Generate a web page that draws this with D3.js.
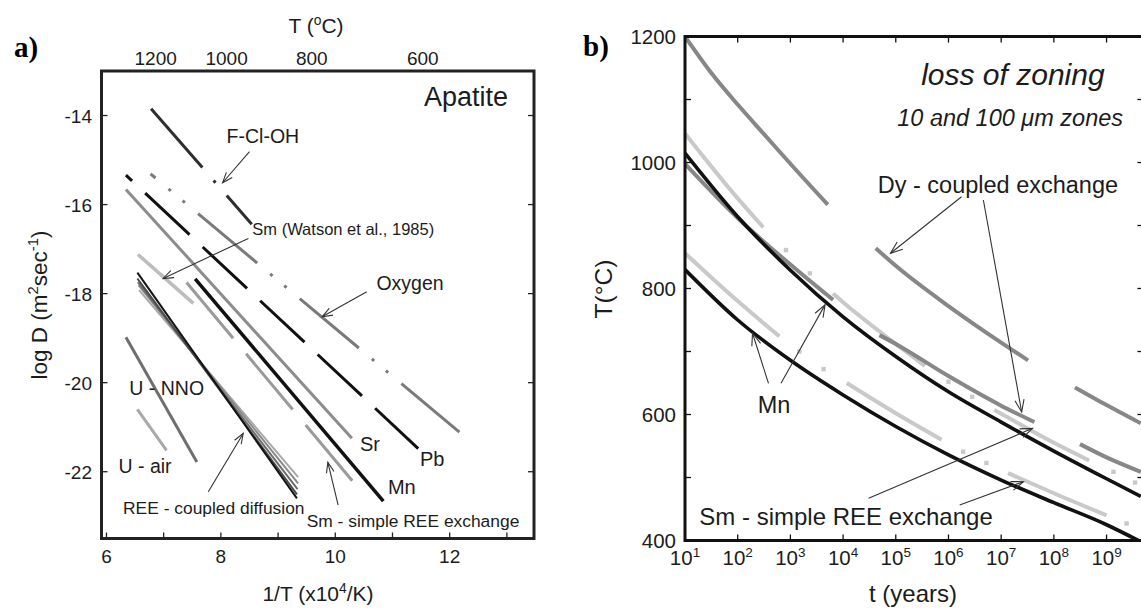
<!DOCTYPE html>
<html>
<head>
<meta charset="utf-8">
<script src="https://cdn.jsdelivr.net/npm/d3@7"></script>
<style>
  html, body { margin: 0; padding: 0; background: #fff; }
  svg { display: block; font-family: "Liberation Sans", Arial, sans-serif; }
</style>
</head>
<body>
<svg id="fig" width="1141" height="608"></svg>
<script>
// ================= Panel a: apatite Arrhenius lines =================
// Each line: endpoints as [1/T (x10^4/K), log D (m^2/s)]
const lineFClOH    = [[6.78, -13.85], [8.54, -16.44]];
const lineOxygen   = [[6.77, -15.31], [12.17, -21.11]];
const linePb       = [[6.34, -15.34], [11.45, -21.48]];
const lineSr       = [[6.34, -15.66], [10.29, -21.25]];
const lineMn       = [[7.55, -17.67], [10.84, -22.66]];
const lineSmWatson = [[6.55, -17.12], [7.52, -18.22]];
const lineSmSimple = [[7.40, -17.75], [10.30, -22.21]];
const lineUNNO     = [[6.34, -18.98], [7.58, -21.78]];
const lineUAir     = [[6.54, -20.60], [7.05, -21.52]];
const linesREE = [
  [[6.54, -17.53], [9.33, -22.60]],
  [[6.54, -17.66], [9.33, -22.51]],
  [[6.55, -17.74], [9.34, -22.39]],
  [[6.56, -17.81], [9.35, -22.26]],
  [[6.57, -17.92], [9.35, -22.12]]
];
const xTicksA  = [6, 7, 8, 9, 10, 11, 12, 13];
const xLabelsA = [6, 8, 10, 12];
const yTicksA  = [-14, -16, -18, -20, -22];
const tempLabels  = [1200, 1000, 800, 600];
const tempLabelAt = [6.86, 8.10, 9.59, 11.53];   // 1/T value under each °C label

// ================= Panel b: time for loss of zoning =================
// Points are [t (years), T (°C)]; dashed series are split into their visible pieces
const dyThick = [
  [[1e1, 1200], [31.6, 1142], [1e2, 1092], [316, 1045], [1e3, 998], [5130, 933]],
  [[4.17e4, 864], [1e5, 836], [1e6, 772], [1e7, 714], [3.24e7, 686]],
  [[2.51e8, 643], [1e9, 615], [4.47e9, 586]]
];
const dyThin = [
  [[1e1, 998], [1e2, 912], [1e3, 838], [6457, 782]],
  [[4.9e4, 726], [1e5, 712], [1e6, 661], [1e7, 614], [4.27e7, 588]],
  [[3.13e8, 553], [1e9, 532], [4.47e9, 509]]
];
const smThick = [
  [[1e1, 1046], [1e2, 943], [306, 897]],
  [[6457, 792], [1e4, 778], [1e5, 712], [3.6e5, 677]],
  [[7.41e6, 607], [1e7, 601], [1e8, 555], [4.68e8, 527]]
];
const smThickDots = [[826, 861], [2344, 824], [1e6, 652], [2.82e6, 628], [1.35e9, 509], [3.47e9, 492]];
const smThin = [
  [[1e1, 856], [1e2, 780], [617, 724]],
  [[1.175e4, 650], [1e5, 602], [7.41e5, 560]],
  [[1.35e7, 507], [1e8, 475], [1e9, 440]]
];
const smThinDots = [[1479, 700], [4266, 672], [1.905e6, 541], [5.25e6, 523], [2.4e9, 427]];
const mnThick = [[1e1, 1015], [1e2, 914], [1e3, 829], [1e4, 755], [1e5, 692], [1e6, 636], [1e7, 588], [1e8, 542], [1e9, 498], [4.47e9, 470]];
const mnThin  = [[1e1, 830], [1e2, 750], [1e3, 686], [1e4, 631], [1e5, 581], [1e6, 536], [1e7, 496], [1e8, 460], [1e9, 425], [4.47e9, 398]];
const timeTicks = [1, 2, 3, 4, 5, 6, 7, 8, 9];          // exponents of 10
const tempTicksB = [500, 600, 700, 800, 900, 1000, 1100];
const tempLabelsB = [400, 600, 800, 1000, 1200];

// ------------------------------------------------------------------
const svg = d3.select("#fig");
const ink = "#1c1c1c";

function label(g, x, y, parts, size, anchor, extra) {
  const t = g.append("text").attr("x", x).attr("y", y)
    .attr("font-size", size).attr("fill", ink)
    .attr("text-anchor", anchor || "start");
  if (extra) extra(t);
  (Array.isArray(parts) ? parts : [[parts]]).forEach(p => {
    const s = t.append("tspan").text(p[0]);
    if (p[1] === "sup") {
      s.attr("font-size", size * 0.66).attr("dy", -size * 0.38);
    } else if (p[1] === "back") {
      s.attr("dy", size * 0.38);
    }
  });
  return t;
}

function arrow(g, tail, head, len, spread) {
  const L = len || 11, a = spread || 0.36;
  const ang = Math.atan2(head[1] - tail[1], head[0] - tail[0]);
  g.append("line").attr("x1", tail[0]).attr("y1", tail[1])
    .attr("x2", head[0]).attr("y2", head[1])
    .attr("stroke", "#333").attr("stroke-width", 1.1);
  const h1 = [head[0] - L * Math.cos(ang - a), head[1] - L * Math.sin(ang - a)];
  const h2 = [head[0] - L * Math.cos(ang + a), head[1] - L * Math.sin(ang + a)];
  g.append("path").attr("d", `M${h1}L${head}L${h2}`)
    .attr("fill", "none").attr("stroke", "#333").attr("stroke-width", 1.1);
}

// ================= Panel a =================
const xA = d3.scaleLinear().domain([5.913, 13.474]).range([101.5, 534]);
const yA = d3.scaleLinear().domain([-23.5, -13]).range([538.5, 71]);
const gA = svg.append("g");
const lnA = d3.line().x(d => xA(d[0])).y(d => yA(d[1]));

function drawA(pts, color, width, dash, offset) {
  const p = gA.append("path").attr("d", lnA(pts)).attr("fill", "none")
    .attr("stroke", color).attr("stroke-width", width).attr("stroke-linecap", "butt");
  if (dash) p.attr("stroke-dasharray", dash).attr("stroke-dashoffset", offset || 0);
}

drawA(lineUAir, "#a9a9a9", 3);
drawA(lineUNNO, "#6f6f6f", 3);
drawA(lineSmWatson, "#bdbdbd", 3.5);
const reeColors = ["#a8a8a8", "#8a8a8a", "#6c6c6c", "#4a4a4a", "#141414"];
linesREE.slice().reverse().forEach((l, i) => drawA(l, reeColors[i], 2));
drawA(lineSr, "#8c8c8c", 3);
drawA(lineSmSimple, "#9a9a9a", 3, "72.6,20.3", 0);
drawA(lineMn, "#111", 3.5);
drawA(lineOxygen, "#7a7a7a", 3, "77,17,3,15.3,3,17.2", 70.5);
drawA(linePb, "#111", 3, "60.7,18", 52.3);
drawA(lineFClOH, "#2e2e2e", 3, "78,17,3,17,45", 0);

// frame
gA.append("rect").attr("x", xA.range()[0]).attr("y", yA.range()[1])
  .attr("width", xA.range()[1] - xA.range()[0]).attr("height", yA.range()[0] - yA.range()[1])
  .attr("fill", "none").attr("stroke", "#222").attr("stroke-width", 3);

// ticks
gA.selectAll(".xt").data(xTicksA).enter().append("line")
  .attr("x1", d => xA(d)).attr("x2", d => xA(d))
  .attr("y1", yA.range()[0]).attr("y2", yA.range()[0] - 6)
  .attr("stroke", "#222").attr("stroke-width", 1.3);
gA.selectAll(".ytl").data(yTicksA).enter().append("line")
  .attr("x1", xA.range()[0]).attr("x2", xA.range()[0] + 6)
  .attr("y1", d => yA(d)).attr("y2", d => yA(d))
  .attr("stroke", "#222").attr("stroke-width", 1.3);
gA.selectAll(".ytr").data(yTicksA).enter().append("line")
  .attr("x1", xA.range()[1]).attr("x2", xA.range()[1] - 6)
  .attr("y1", d => yA(d)).attr("y2", d => yA(d))
  .attr("stroke", "#222").attr("stroke-width", 1.3);

xLabelsA.forEach(v => label(gA, xA(v), 563, String(v), 19, "middle"));
yTicksA.forEach(v => label(gA, 92, yA(v) + 7, String(v), 19, "end"));
tempLabels.forEach((v, i) => label(gA, xA(tempLabelAt[i]), 65, String(v), 19, "middle"));

label(gA, 316, 33, [["T ("], ["o", "sup"], ["C)", "back"]], 21, "middle");
label(gA, 318, 601, [["1/T (x10"], ["4", "sup"], ["/K)", "back"]], 21, "middle");
label(gA, 0, 0, [["log D (m"], ["2", "sup"], ["sec", "back"], ["-1", "sup"], [")", "back"]], 22.5, "middle",
  t => t.attr("transform", "translate(47,305) rotate(-90)"));
label(gA, 26, 57, "a)", 29, "middle", t => t.attr("font-family", "Liberation Serif, Times New Roman, serif").attr("font-weight", "bold").attr("fill", "#000"));
label(gA, xA(13.02), yA(-13.79), "Apatite", 27, "end");

// annotations in data coordinates
label(gA, xA(8.10), yA(-14.62), "F-Cl-OH", 19.5);
arrow(gA, [xA(8.50), yA(-14.81)], [xA(8.03), yA(-15.51)]);
label(gA, xA(8.55), yA(-16.69), "Sm (Watson et al., 1985)", 16.5);
arrow(gA, [xA(8.48), yA(-16.76)], [xA(6.99), yA(-17.66)]);
label(gA, xA(10.72), yA(-17.92), "Oxygen", 19.5);
arrow(gA, [xA(10.55), yA(-17.96)], [xA(9.77), yA(-18.52)]);
label(gA, xA(10.43), yA(-21.54), "Sr", 20);
label(gA, xA(11.48), yA(-21.88), "Pb", 20);
label(gA, xA(10.92), yA(-22.51), "Mn", 20);
label(gA, xA(6.40), yA(-20.28), "U - NNO", 19.5);
label(gA, xA(6.21), yA(-22.03), "U - air", 19.5);
label(gA, xA(6.29), yA(-22.96), "REE - coupled diffusion", 17.4);
arrow(gA, [xA(7.78), yA(-22.45)], [xA(8.39), yA(-21.14)]);
label(gA, xA(9.50), yA(-23.25), "Sm - simple REE exchange", 17.4);
arrow(gA, [xA(10.05), yA(-22.75)], [xA(9.87), yA(-21.79)]);

// ================= Panel b =================
const xB = d3.scaleLog().domain([10, 5e9]).range([685, 1143.4]);
const yB = d3.scaleLinear().domain([400, 1200]).range([540.5, 36.5]);
const gB = svg.append("g");
svg.append("defs").append("clipPath").attr("id", "plotB").append("rect")
  .attr("x", xB.range()[0]).attr("y", yB.range()[1])
  .attr("width", xB.range()[1] - xB.range()[0]).attr("height", yB.range()[0] - yB.range()[1]);
const curves = gB.append("g").attr("clip-path", "url(#plotB)");
const lnB = d3.line().x(d => xB(d[0])).y(d => yB(d[1])).curve(d3.curveMonotoneX);

function drawB(pieces, color, width) {
  curves.selectAll(null).data(pieces).enter().append("path")
    .attr("d", lnB).attr("fill", "none").attr("stroke", color)
    .attr("stroke-width", width).attr("stroke-linecap", "butt");
}
function dotsB(pts, color) {
  curves.selectAll(null).data(pts).enter().append("rect")
    .attr("x", d => xB(d[0]) - 2.2).attr("y", d => yB(d[1]) - 2.2)
    .attr("width", 4.4).attr("height", 4.4).attr("fill", color);
}

drawB(smThin, "#c9c9c9", 4);
dotsB(smThinDots, "#c9c9c9");
drawB(smThick, "#c9c9c9", 4);
dotsB(smThickDots, "#c9c9c9");
drawB(dyThin, "#878787", 4);
drawB(dyThick, "#878787", 4);
drawB([mnThin], "#111", 3.6);
drawB([mnThick], "#111", 3.6);

// frame
gB.append("rect").attr("x", xB.range()[0]).attr("y", yB.range()[1])
  .attr("width", xB.range()[1] - xB.range()[0]).attr("height", yB.range()[0] - yB.range()[1])
  .attr("fill", "none").attr("stroke", "#111").attr("stroke-width", 3);

// ticks
const decades = timeTicks.map(e => Math.pow(10, e));
[yB.range()[0], yB.range()[1]].forEach((y0, k) => {
  gB.selectAll(null).data(decades).enter().append("line")
    .attr("x1", d => xB(d)).attr("x2", d => xB(d))
    .attr("y1", y0).attr("y2", k === 0 ? y0 - 6 : y0 + 6)
    .attr("stroke", "#111").attr("stroke-width", 1.3);
});
[xB.range()[0], xB.range()[1]].forEach((x0, k) => {
  gB.selectAll(null).data(tempTicksB).enter().append("line")
    .attr("x1", x0).attr("x2", k === 0 ? x0 + 6 : x0 - 6)
    .attr("y1", d => yB(d)).attr("y2", d => yB(d))
    .attr("stroke", "#111").attr("stroke-width", 1.3);
});

timeTicks.forEach(e => label(gB, xB(Math.pow(10, e)), 565, [["10"], [String(e), "sup"]], 20.5, "middle"));
tempLabelsB.forEach(v => label(gB, 676, yB(v) + 7.5, String(v), 20.5, "end"));

label(gB, 913, 602, "t (years)", 24, "middle");
label(gB, 0, 0, "T(°C)", 24.5, "middle", t => t.attr("transform", "translate(612,289) rotate(-90)"));
label(gB, 596, 56, "b)", 29, "middle", t => t.attr("font-family", "Liberation Serif, Times New Roman, serif").attr("font-weight", "bold").attr("fill", "#000"));

label(gB, xB(1.67e7), yB(1123), "loss of zoning", 30, "middle", t => t.attr("font-style", "italic"));
label(gB, xB(1.48e7), yB(1058), "10 and 100 μm zones", 23.5, "middle", t => t.attr("font-style", "italic"));
label(gB, xB(4.54e4), yB(951), "Dy - coupled exchange", 23.5);
arrow(gB, [xB(1.77e6), yB(945.7)], [xB(7.94e4), yB(856)], 13);
arrow(gB, [xB(4.59e6), yB(940.5)], [xB(2.45e7), yB(604)], 13);
label(gB, xB(239), yB(602), "Mn", 23.5);
arrow(gB, [xB(384), yB(649.5)], [xB(191), yB(729)], 13);
arrow(gB, [xB(664), yB(649.5)], [xB(4540), yB(774)], 13);
label(gB, xB(18.7), yB(424.6), "Sm - simple REE exchange", 24);
arrow(gB, [xB(3.05e4), yB(467)], [xB(3.93e7), yB(578)], 13);
arrow(gB, [xB(1.63e6), yB(456.3)], [xB(2.64e7), yB(493.3)], 13);
</script>
</body>
</html>
